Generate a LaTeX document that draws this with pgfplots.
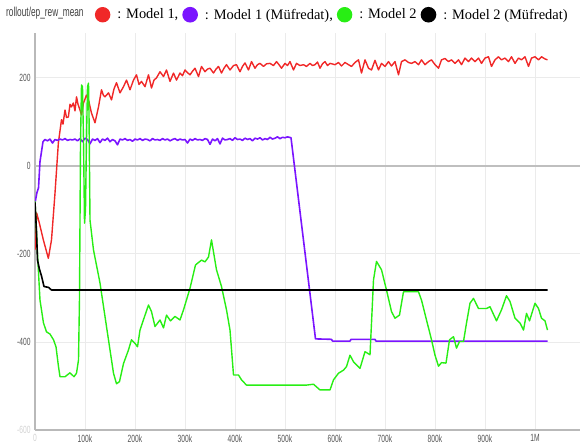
\documentclass[border=0pt]{standalone}
\usepackage{fontspec}
\setmainfont{Liberation Serif}
\newfontfamily\condsans[FakeStretch=0.64]{Liberation Sans}
\usepackage{pgfplots}
\pgfplotsset{compat=1.18}
\definecolor{cred}{RGB}{240,40,40}
\definecolor{cpurple}{RGB}{122,20,255}
\definecolor{cgreen}{RGB}{40,238,20}
\definecolor{tickgray}{RGB}{85,85,85}
\begin{document}
\begin{tikzpicture}
\useasboundingbox (-35bp,-16bp) rectangle (545bp,430bp);
\begin{axis}[
  scale only axis, width=545bp, height=397bp,
  xmin=0, xmax=1090000, ymin=-600, ymax=302,
  axis x line*=bottom, axis y line*=left,
  axis line style={draw=gray!55, line width=1.1bp, -},
  xtick={0,100000,200000,300000,400000,500000,600000,700000,800000,900000,1000000},
  xticklabels={\textcolor{gray!35}{0},100k,200k,300k,400k,500k,600k,700k,800k,900k,1M},
  scaled x ticks=false,
  ytick={-600,-400,-200,200},
  yticklabels={\textcolor{gray!35}{-600},-400,-200,200},
  extra y ticks={0}, extra y tick labels={0},
  extra y tick style={grid style={gray!50, line width=1.4bp}},
  grid=major, grid style={gray!16, line width=0.9bp},
  major tick length=0pt,
  tick label style={font=\condsans\fontsize{10.5}{12}\selectfont, text=tickgray},
  yticklabel style={xshift=-1bp},
  xticklabel style={yshift=-1bp},
  legend columns=4,
  legend style={draw=none, fill=none, inner sep=0pt, outer sep=0pt,
    at={(axis description cs:0.110,1.046)}, anchor=west,
    font=\fontsize{14.5}{16}\selectfont,
    nodes={inner sep=0pt},
    /tikz/every odd column/.append style={column sep=7bp},
    /tikz/every even column/.append style={column sep=4bp}},
  legend image code/.code={\fill (7bp,0bp) circle (7bp);},
  line join=round,
]
% Model 1
\addplot[color=cred, line width=1.4bp] coordinates {
(0,-191)(3300,-107)(8700,-130)(16700,-168)(26700,-210)(33000,-168)(40000,-62)(46700,52)(53000,105)(56000,95)(60000,127)(63000,110)(66700,111)(70000,140)(73000,134)(76700,143)(80000,125)(83000,157)(86000,140)(90000,127)(93000,116)(97000,143)(103000,161)(107000,150)(113000,120)(120000,98)(127000,134)(133000,173)(137000,160)(140000,157)(147000,166)(153000,150)(158000,175)(163000,189)(170000,166)(177000,180)(183000,195)(190000,173)(197000,195)(203000,207)(208000,185)(213000,192)(220000,180)(227000,207)(233000,177)(238000,195)(243000,200)(250000,214)(257000,203)(263000,218)(270000,192)(277000,211)(283000,195)(290000,211)(295000,205)(300000,218)(305000,212)(310000,207)(315000,215)(320000,222)(327000,203)(333000,226)(340000,214)(345000,220)(350000,222)(357000,211)(362000,220)(367000,226)(373000,211)(378000,222)(383000,230)(390000,218)(397000,228)(403000,230)(410000,214)(415000,226)(420000,234)(427000,218)(433000,237)(440000,222)(445000,230)(450000,233)(457000,226)(463000,232)(470000,233)(477000,228)(483000,237)(488000,230)(493000,222)(500000,233)(505000,228)(510000,237)(517000,218)(523000,233)(530000,228)(537000,230)(543000,226)(550000,233)(555000,228)(560000,230)(565000,236)(570000,222)(575000,232)(580000,237)(585000,228)(590000,233)(600000,230)(607000,235)(613000,227)(620000,235)(627000,230)(633000,226)(640000,235)(647000,241)(653000,211)(660000,241)(667000,222)(673000,218)(680000,240)(687000,218)(693000,233)(700000,226)(707000,237)(713000,227)(720000,237)(727000,207)(733000,237)(740000,241)(747000,235)(753000,233)(760000,237)(767000,230)(773000,241)(780000,230)(787000,237)(793000,241)(800000,230)(807000,222)(813000,241)(820000,244)(827000,237)(833000,241)(840000,233)(847000,241)(853000,230)(860000,245)(867000,237)(873000,245)(880000,237)(887000,245)(893000,233)(900000,245)(907000,248)(913000,226)(920000,241)(927000,248)(933000,241)(940000,245)(947000,237)(953000,248)(960000,233)(967000,245)(973000,241)(980000,248)(987000,226)(993000,245)(1000000,248)(1007000,241)(1013000,248)(1020000,243)(1025000,241)
};
\addlegendentry{: Model 1,}
% Model 1 (Mufredat)
\addplot[color=cpurple, line width=1.6bp] coordinates {
(0,-84)(4000,-60)(7000,-50)(10000,10)(16000,55)(20000,60)(25000,57)(30000,61)(35000,52)(40000,60)(45000,58)(50000,61)(55000,59)(60000,62)(65000,58)(70000,60)(75000,59)(80000,61)(85000,57)(90000,62)(95000,55)(100000,63)(105000,60)(110000,50)(115000,61)(120000,58)(125000,62)(130000,53)(135000,61)(140000,58)(145000,63)(150000,55)(155000,60)(160000,57)(165000,48)(170000,61)(175000,59)(180000,62)(185000,58)(190000,60)(195000,56)(200000,61)(205000,59)(210000,62)(215000,58)(220000,61)(225000,60)(230000,57)(235000,62)(240000,59)(245000,60)(250000,58)(255000,62)(260000,59)(265000,61)(270000,57)(275000,60)(280000,62)(285000,58)(290000,61)(295000,59)(300000,60)(305000,52)(310000,61)(315000,58)(320000,62)(325000,59)(330000,60)(335000,58)(340000,62)(345000,60)(350000,49)(355000,61)(360000,57)(365000,62)(370000,50)(375000,63)(380000,59)(385000,60)(390000,62)(395000,58)(400000,64)(405000,60)(410000,61)(415000,58)(420000,63)(425000,60)(430000,62)(435000,57)(440000,63)(445000,61)(450000,64)(455000,59)(460000,62)(465000,60)(470000,65)(475000,61)(480000,63)(485000,66)(490000,62)(495000,65)(500000,64)(505000,66)(512000,64)(561000,-393)(593000,-394)(595000,-398)(630000,-398)(632000,-394)(680000,-394)(682000,-398)(1025000,-398)
};
\addlegendentry{: Model 1 (Müfredat),}
% Model 2
\addplot[color=cgreen, line width=1.4bp] coordinates {
(0,-80)(5000,-200)(10000,-305)(17000,-357)(23000,-377)(30000,-382)(37000,-395)(42000,-411)(47000,-456)(50000,-479)(60000,-479)(70000,-470)(78000,-479)(83000,-471)(87000,-441)(89000,-300)(91000,50)(93000,184)(95000,180)(97000,60)(99000,-130)(101000,-100)(103000,60)(105000,180)(107000,188)(108000,120)(110000,-123)(117000,-191)(130000,-266)(143000,-365)(150000,-418)(157000,-471)(163000,-495)(169000,-490)(177000,-449)(187000,-418)(193000,-395)(200000,-403)(205000,-411)(210000,-373)(218000,-346)(227000,-316)(233000,-331)(240000,-365)(250000,-350)(257000,-368)(263000,-339)(271000,-352)(280000,-342)(290000,-350)(297000,-327)(310000,-278)(321000,-225)(333000,-214)(340000,-218)(347000,-207)(353000,-168)(363000,-236)(373000,-274)(383000,-327)(390000,-373)(397000,-475)(407000,-475)(413000,-486)(423000,-498)(480000,-498)(543000,-498)(557000,-496)(570000,-509)(590000,-509)(597000,-486)(607000,-471)(617000,-464)(623000,-456)(630000,-430)(637000,-445)(650000,-460)(660000,-422)(670000,-429)(673000,-357)(677000,-259)(683000,-217)(693000,-236)(703000,-282)(713000,-331)(720000,-346)(729000,-339)(733000,-312)(737000,-286)(767000,-286)(773000,-305)(783000,-350)(793000,-395)(800000,-430)(807000,-455)(813000,-447)(822000,-448)(829000,-395)(837000,-388)(843000,-414)(849000,-399)(857000,-399)(863000,-357)(870000,-312)(877000,-301)(887000,-324)(903000,-324)(910000,-320)(923000,-352)(933000,-327)(943000,-295)(950000,-308)(960000,-346)(970000,-357)(977000,-373)(983000,-335)(989000,-352)(1000000,-312)(1007000,-324)(1013000,-346)(1020000,-352)(1025000,-373)
};
\addlegendentry{: Model 2}
% Model 2 (Mufredat)
\addplot[color=black, line width=1.6bp] coordinates {
(0,-83)(3000,-150)(5000,-214)(9000,-235)(13000,-250)(18000,-274)(27000,-276)(33000,-282)(1025000,-282)
};
\addlegendentry{: Model 2 (Müfredat)}
\end{axis}
\node[anchor=west, inner sep=0pt, font=\condsans\fontsize{13}{15}\selectfont, text=black!75] at (-29bp,417bp) {rollout/ep\_rew\_mean};
\end{tikzpicture}
\end{document}
